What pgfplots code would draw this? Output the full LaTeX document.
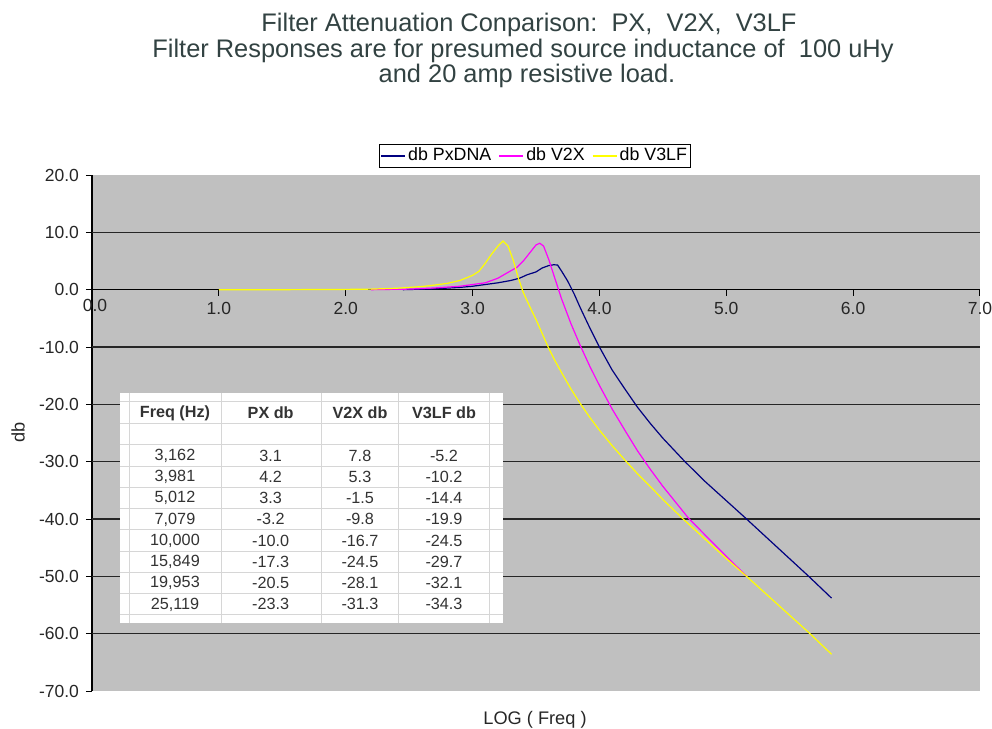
\documentclass[border=0pt]{standalone}
\usepackage{pgfplots}
\pgfplotsset{compat=1.18}
\usepackage{fontspec}
\setmainfont{Liberation Sans}
\definecolor{plotgray}{RGB}{192,192,192}
\definecolor{pxnavy}{RGB}{0,0,128}
\definecolor{vmag}{RGB}{255,0,255}
\definecolor{vyel}{RGB}{255,255,0}
\definecolor{titlecol}{RGB}{50,66,66}
\definecolor{tabgrid}{RGB}{214,214,214}
\begin{document}
\begin{tikzpicture}
\begin{axis}[
  at={(0,0)}, anchor=south west,
  scale only axis, width=444pt, height=258pt,
  xmin=0, xmax=7, ymin=-70, ymax=20,
  axis x line=middle, axis y line=left,
  axis line style={-, black, line width=0.6pt},
  xtick={0,1,2,3,4,5,6,7},
  xticklabels={0.0,1.0,2.0,3.0,4.0,5.0,6.0,7.0},
  ytick={-70,-60,-50,-40,-30,-20,-10,0,10,20},
  yticklabels={-70.0,-60.0,-50.0,-40.0,-30.0,-20.0,-10.0,0.0,10.0,20.0},
  xtick align=outside, ytick align=outside,
  major tick length=3pt,
  tick style={black, line width=0.5pt},
  extra y ticks={-60,-50,-40,-30,-20,-10,10},
  extra y tick labels={},
  extra y tick style={grid=major, major tick length=0pt},
  major grid style={black!85, line width=0.6pt},
  axis background/.style={fill=plotgray},
  ticklabel style={font=\fontsize{8.75}{10}\selectfont, text=black!85},
  legend style={at={(0.4989,1.060)}, anchor=north, draw=black, fill=white,
    font=\fontsize{8.9}{10}\selectfont, inner sep=0.6pt,
    nodes={inner sep=1.2pt},
    /tikz/every even column/.append style={column sep=2.5pt}},
  legend columns=3,
  legend image code/.code={\draw[#1] (0pt,0pt) -- (12pt,0pt);},
  clip=false,
]
\addplot[pxnavy, line width=0.6pt] coordinates {
(2.45,0) (2.7,0.15) (2.9,0.4) (3.0,0.6) (3.1,0.9) (3.2,1.2) (3.3,1.6)
(3.37,2.0) (3.43,2.6) (3.5,3.1) (3.55,3.8) (3.6,4.2) (3.64,4.35) (3.67,4.3)
(3.7,3.3) (3.75,1.5) (3.8,-0.7) (3.85,-3.2) (3.925,-6.7) (4.0,-10.0)
(4.1,-14.0) (4.2,-17.3) (4.3,-20.5) (4.4,-23.3) (4.5,-25.9) (4.67,-29.9)
(4.83,-33.4) (5.0,-36.8) (5.15,-39.8) (5.4,-44.9) (5.65,-50) (5.83,-53.8)};
\addlegendentry{db PxDNA}
\addplot[vmag, line width=0.6pt] coordinates {
(2.2,0) (2.5,0.1) (2.7,0.3) (2.9,0.6) (3.0,0.9) (3.1,1.2) (3.2,2.0)
(3.27,2.9) (3.35,3.9) (3.4,5.0) (3.45,6.4) (3.5,7.8) (3.53,8.1) (3.56,7.6)
(3.6,5.3) (3.65,1.9) (3.7,-1.5) (3.775,-5.9) (3.85,-9.8) (3.925,-13.4)
(4.0,-16.7) (4.1,-20.8) (4.2,-24.5) (4.3,-28.1) (4.4,-31.3) (4.5,-34.3)
(4.58,-36.5) (4.7,-39.8) (4.9,-44.3) (5.16,-50)};
\addlegendentry{db V2X}
\addplot[vyel, line width=0.6pt] coordinates {
(1.0,0) (1.5,0) (2.0,0.05) (2.2,0.1) (2.4,0.25) (2.6,0.55) (2.7,0.8)
(2.8,1.1) (2.9,1.6) (3.0,2.5) (3.05,3.2) (3.1,4.6) (3.15,6.2) (3.2,7.6)
(3.24,8.5) (3.28,7.6) (3.32,5.2) (3.36,2.1) (3.40,-0.5) (3.45,-2.9)
(3.5,-5.2) (3.55,-7.7) (3.6,-10.2) (3.65,-12.4) (3.7,-14.4) (3.775,-17.3) (3.85,-19.9)
(3.925,-22.3) (4.0,-24.5) (4.1,-27.2) (4.2,-29.7) (4.3,-32.1) (4.4,-34.3)
(4.5,-36.6) (4.66,-40) (5.0,-46.9) (5.16,-50) (5.4,-54.8) (5.66,-60) (5.83,-63.6)};
\addlegendentry{db V3LF}
\end{axis}
\begin{scope}[shift={(-46pt,345.5pt)},x=0.5pt,y=-0.5pt]
% titles
\node[text=titlecol, font=\fontsize{12.7}{13}\selectfont] at (529,25) {Filter Attenuation Conparison:\ \ PX,\ \ V2X,\ \ V3LF};
\node[text=titlecol, font=\fontsize{12.7}{13}\selectfont] at (523,51) {Filter Responses are for presumed source inductance of\ \ 100 uHy};
\node[text=titlecol, font=\fontsize{12.7}{13}\selectfont] at (527,76) {and 20 amp resistive load.};
% axis labels
\node[font=\fontsize{9.1}{10}\selectfont, text=black!85] at (535,720) {LOG ( Freq )};
\node[font=\fontsize{9.1}{10}\selectfont, text=black!85, rotate=90] at (18,432) {db};
% x tick label at the origin (hidden by pgfplots for middle axis lines)
\node[font=\fontsize{8.75}{10}\selectfont, text=black!85] at (95,305) {0.0};
% embedded table
\fill[white] (120,393) rectangle (503,623);
\foreach \yy in {401.7,424,445,466.3,487.5,508.8,530,551.3,572.5,593.8,615}
  \draw[tabgrid, line width=0.5pt] (120,\yy) -- (503,\yy);
\foreach \xx in {129.3,221.7,321.7,398.3,489.3}
  \draw[tabgrid, line width=0.5pt] (\xx,393) -- (\xx,623);
\begin{scope}[every node/.style={font=\fontsize{8.1}{9}\selectfont, text=black!80}]
\node[font=\fontsize{8.1}{9}\selectfont\bfseries] at (175,413) {Freq (Hz)};
\node[font=\fontsize{8.1}{9}\selectfont\bfseries] at (270.7,413) {PX db};
\node[font=\fontsize{8.1}{9}\selectfont\bfseries] at (360,413) {V2X db};
\node[font=\fontsize{8.1}{9}\selectfont\bfseries] at (444,413) {V3LF db};
\foreach \yy/\f/\a/\b/\c in {455.6/3{,}162/3.1/7.8/-5.2, 476.9/3{,}981/4.2/5.3/-10.2,
  498.1/5{,}012/3.3/-1.5/-14.4, 519.4/7{,}079/-3.2/-9.8/-19.9,
  540.6/10{,}000/-10.0/-16.7/-24.5, 561.9/15{,}849/-17.3/-24.5/-29.7,
  583.1/19{,}953/-20.5/-28.1/-32.1, 604.4/25{,}119/-23.3/-31.3/-34.3}{
  \node at (175,\yy) {\f};
  \node at (270.7,\yy) {\a};
  \node at (360,\yy) {\b};
  \node at (444,\yy) {\c};
}
\end{scope}
\end{scope}
\pgfresetboundingbox
\begin{scope}[shift={(-46pt,345.5pt)},x=0.5pt,y=-0.5pt]
\useasboundingbox (0,0) rectangle (992,729);
\end{scope}
\end{tikzpicture}
\end{document}
